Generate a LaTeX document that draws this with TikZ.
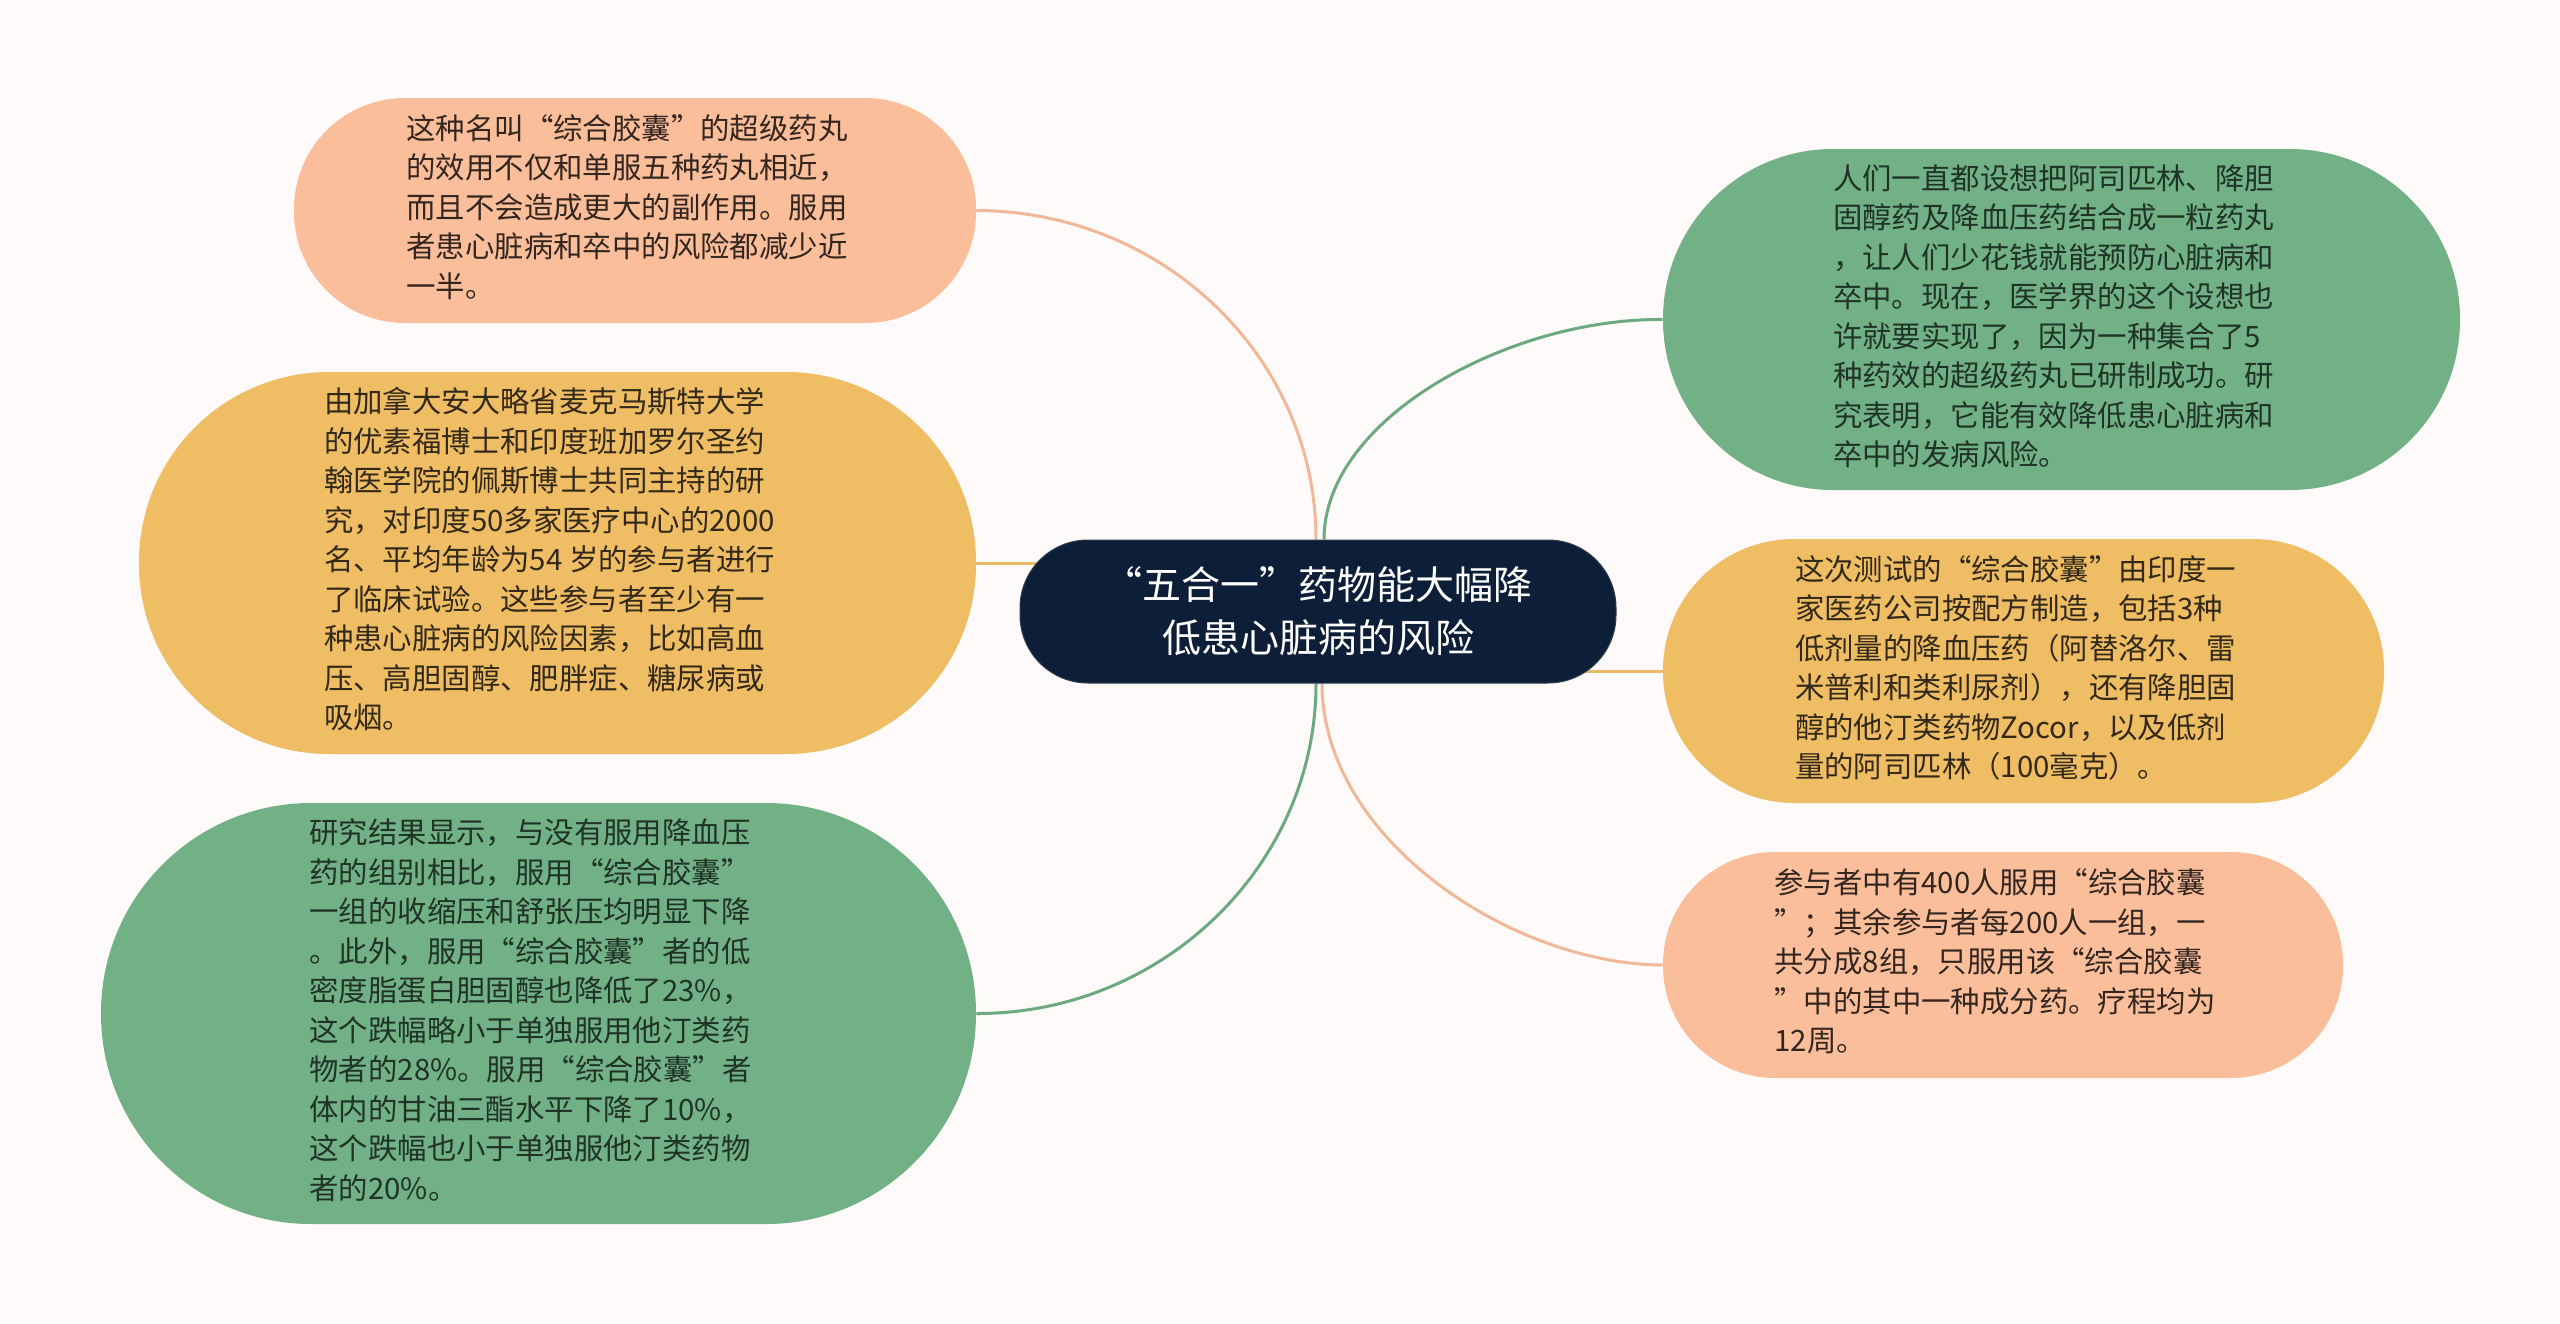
\documentclass[tikz,border=0pt]{standalone}
\usepackage{fontspec}
\setmainfont{Noto Sans CJK SC}
\usetikzlibrary{calc}
\definecolor{bgc}{HTML}{FDFAF9}
\definecolor{salmonf}{HTML}{FBBE9B}
\definecolor{orangef}{HTML}{EFBD63}
\definecolor{greenf}{HTML}{72B085}
\definecolor{navyf}{HTML}{0D1F38}
\definecolor{salmonl}{HTML}{F0B896}
\definecolor{greenl}{HTML}{6CA880}
\definecolor{orangel}{HTML}{EABA64}
\definecolor{txtsalmon}{HTML}{33261F}
\definecolor{txtorange}{HTML}{33291A}
\definecolor{txtgreen}{HTML}{1F3326}
\newcommand\leaftext[1]{\raisebox{-2pt}{\begin{tabular}{@{}l@{\hspace{8pt}}}#1\end{tabular}}}
\pgfdeclarelayer{bottom}
\pgfdeclarelayer{links}
\pgfsetlayers{bottom,links,main}
\begin{document}
\begin{tikzpicture}[x=0.5pt,y=-0.5pt,
  leaf/.style={inner sep=0pt, font=\fontsize{14.7pt}{19.75pt}\selectfont},
  salmonbox/.style={leaf, fill=salmonf, text=txtsalmon},
  orangebox/.style={leaf, fill=orangef, text=txtorange},
  greenbox/.style={leaf, fill=greenf, text=txtgreen},
  rootbox/.style={inner sep=0pt, align=center, fill=navyf, draw=navyf!70!gray, line width=0.5pt,
     text=white, font=\fontsize{19.5pt}{26.5pt}\selectfont,
     minimum width=298pt, minimum height=71.5pt, rounded corners=34pt},
  lnsalmon/.style={draw=salmonl, line width=1.5pt},
  lngreen/.style={draw=greenl, line width=1.5pt},
  lnorange/.style={draw=orangel, line width=1.5pt}
]
\begin{pgfonlayer}{bottom}
\fill[bgc] (0,0) rectangle (2560,1323);
\end{pgfonlayer}
\useasboundingbox (0,0) rectangle (2560,1323);

\node[rootbox] (cn) at (1318,611.5) {“五合一”药物能大幅降\\低患心脏病的风险};

\node[salmonbox, minimum width=341pt, minimum height=112.5pt, rounded corners=55.5pt] (tl) at (635,210.5)
{\leaftext{这种名叫“综合胶囊”的超级药丸\\的效用不仅和单服五种药丸相近，\\而且不会造成更大的副作用。服用\\者患心脏病和卒中的风险都减少近\\一半。}};

\node[orangebox, minimum width=418.5pt, minimum height=191pt, rounded corners=95pt] (ml) at (557.5,563)
{\leaftext{由加拿大安大略省麦克马斯特大学\\的优素福博士和印度班加罗尔圣约\\翰医学院的佩斯博士共同主持的研\\究，对印度50多家医疗中心的2000\\名、平均年龄为54 岁的参与者进行\\了临床试验。这些参与者至少有一\\种患心脏病的风险因素，比如高血\\压、高胆固醇、肥胖症、糖尿病或\\吸烟。}};

\node[greenbox, minimum width=437.5pt, minimum height=210.5pt, rounded corners=105pt] (bl) at (538.5,1013.5)
{\leaftext{研究结果显示，与没有服用降血压\\药的组别相比，服用“综合胶囊”\\一组的收缩压和舒张压均明显下降\\。此外，服用“综合胶囊”者的低\\密度脂蛋白胆固醇也降低了23\%，\\这个跌幅略小于单独服用他汀类药\\物者的28\%。服用“综合胶囊”者\\体内的甘油三酯水平下降了10\%，\\这个跌幅也小于单独服他汀类药物\\者的20\%。}};

\node[greenbox, minimum width=398.5pt, minimum height=170.5pt, rounded corners=85pt] (tr) at (2061.5,319.5)
{\leaftext{人们一直都设想把阿司匹林、降胆\\固醇药及降血压药结合成一粒药丸\\，让人们少花钱就能预防心脏病和\\卒中。现在，医学界的这个设想也\\许就要实现了，因为一种集合了5\\种药效的超级药丸已研制成功。研\\究表明，它能有效降低患心脏病和\\卒中的发病风险。}};

\node[orangebox, minimum width=360.5pt, minimum height=132pt, rounded corners=65.5pt] (mr) at (2023.5,671)
{\leaftext{这次测试的“综合胶囊”由印度一\\家医药公司按配方制造，包括3种\\低剂量的降血压药（阿替洛尔、雷\\米普利和类利尿剂），还有降胆固\\醇的他汀类药物Zocor，以及低剂\\量的阿司匹林（100毫克）。}};

\node[salmonbox, minimum width=340pt, minimum height=113pt, rounded corners=56pt] (br) at (2003,965)
{\leaftext{参与者中有400人服用“综合胶囊\\”；其余参与者每200人一组，一\\共分成8组，只服用该“综合胶囊\\”中的其中一种成分药。疗程均为\\12周。}};

\begin{pgfonlayer}{links}
\draw[lnsalmon] ($(cn.north)+(-2,0)$) .. controls (1316,358) and (1164,211) .. (tl.east);
\draw[lnorange] (ml.east) -- (ml.east -| cn.center);
\draw[lngreen] ($(cn.south)+(-2,0)$) .. controls (1316,865) and (1163,1014) .. (bl.east);
\draw[lngreen] ($(cn.north)+(6,0)$) .. controls (1324,418) and (1510,318) .. (tr.west);
\draw[lnorange] (mr.west -| cn.center) -- (mr.west);
\draw[lnsalmon] ($(cn.south)+(4,0)$) .. controls (1322,838) and (1510,964) .. (br.west);
\end{pgfonlayer}
\end{tikzpicture}
\end{document}
